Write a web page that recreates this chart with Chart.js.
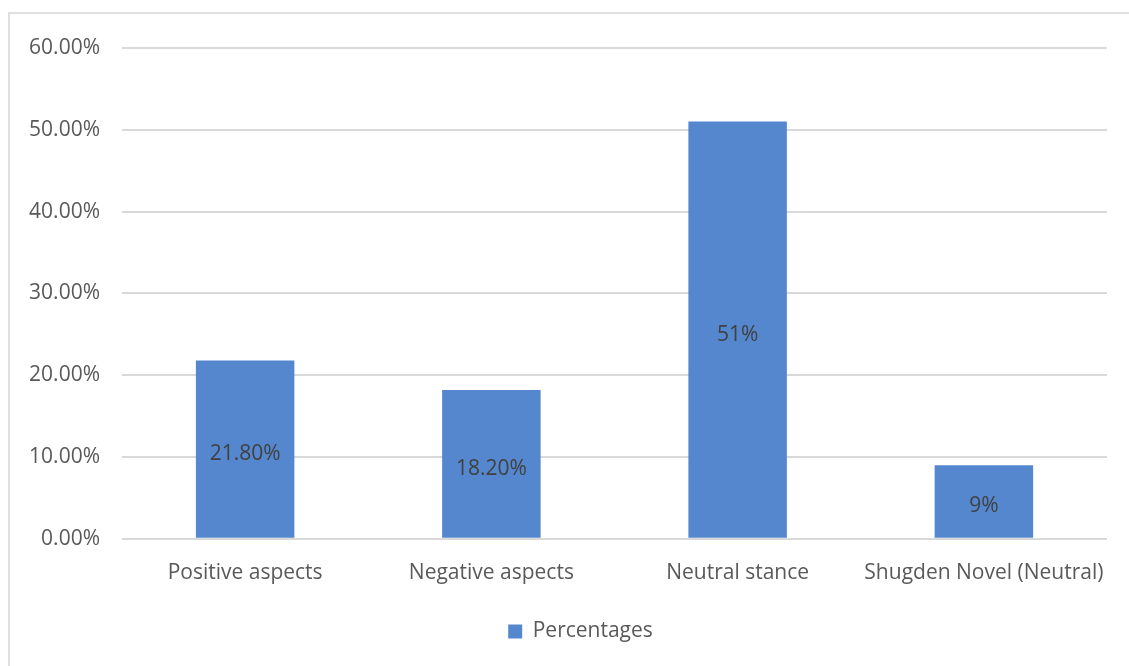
<!DOCTYPE html>
<html>
<head>
<meta charset="utf-8">
<script src="https://cdn.jsdelivr.net/npm/chart.js@4.4.0/dist/chart.umd.min.js"></script>
<style>
  html, body { margin: 0; padding: 0; background: #ffffff; }
  body { width: 1129px; height: 666px; overflow: hidden; position: relative; }
  #frame { position: absolute; left: 8px; top: 12px; width: 1140px; height: 680px; border: 2px solid #e0e0e0; box-sizing: border-box; }
  #wrap { position: absolute; left: 0; top: 0; width: 1129px; height: 666px; }
</style>
</head>
<body>
<div id="frame"></div>
<div id="wrap"><canvas id="c" width="1129" height="666"></canvas></div>
<script>
const categories = ["Positive aspects", "Negative aspects", "Neutral stance", "Shugden Novel (Neutral)"];
const percentages = [21.8, 18.2, 51, 9];
const valueLabels = ["21.80%", "18.20%", "51%", "9%"];
const seriesName = "Percentages";
const yTicks = [0, 10, 20, 30, 40, 50, 60];

const FONT = "'Open Sans', sans-serif";
const TEXT = "#595959";

const barLabels = {
  id: 'barLabels',
  afterDatasetsDraw(chart) {
    const ctx = chart.ctx;
    const meta = chart.getDatasetMeta(0);
    ctx.save();
    ctx.font = "21px " + FONT;
    ctx.fillStyle = "#404040";
    ctx.textAlign = "center";
    ctx.textBaseline = "middle";
    meta.data.forEach((bar, i) => {
      const p = bar.getProps(['x', 'y', 'base'], true);
      ctx.fillText(valueLabels[i], p.x, (p.y + p.base) / 2 + 5);
    });
    ctx.restore();
  }
};

const legendShift = {
  id: 'legendShift',
  afterLayout(chart) {
    if (chart.legend) {
      chart.legend.left += 17;
      chart.legend.right += 17;
    }
  }
};

new Chart(document.getElementById('c'), {
  type: 'bar',
  data: {
    labels: categories,
    datasets: [{
      label: seriesName,
      data: percentages,
      backgroundColor: "#5587cf",
      borderWidth: 0,
      barPercentage: 0.4,
      categoryPercentage: 1.0
    }]
  },
  options: {
    responsive: false,
    animation: false,
    devicePixelRatio: 1,
    layout: { padding: { left: 20, right: 22, top: 48, bottom: 14 } },
    plugins: {
      legend: {
        position: 'bottom',
        labels: {
          font: { family: FONT, size: 21 },
          color: TEXT,
          boxWidth: 14,
          boxHeight: 14,
          padding: 6,
          useBorderRadius: false
        }
      },
      tooltip: { enabled: false }
    },
    scales: {
      x: {
        afterFit(scale) { scale.height += 7; },
        grid: { display: false, drawTicks: false },
        border: { display: false },
        ticks: {
          font: { family: FONT, size: 21 },
          color: TEXT,
          padding: 22,
          maxRotation: 0,
          autoSkip: false
        }
      },
      y: {
        min: 0,
        max: 60,
        afterBuildTicks(scale) { scale.ticks = yTicks.map(v => ({ value: v })); },
        afterFit(scale) { scale.width = 102; },
        grid: { color: "#d9d9d9", lineWidth: 2, drawTicks: false },
        border: { display: false },
        ticks: {
          font: { family: FONT, size: 21 },
          color: TEXT,
          padding: 22,
          callback: v => v.toFixed(2) + "%"
        }
      }
    }
  },
  plugins: [barLabels, legendShift]
});
</script>
</body>
</html>
